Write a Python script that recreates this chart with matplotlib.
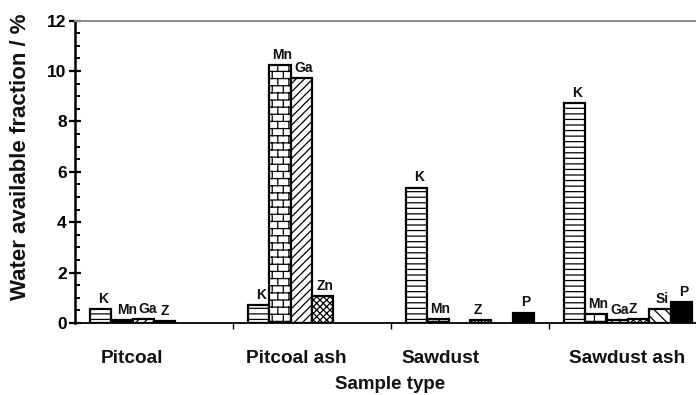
import warnings
warnings.filterwarnings("ignore")
import numpy as np
import matplotlib
matplotlib.use("Agg")
import matplotlib.pyplot as plt
import matplotlib.hatch as mhatch
from matplotlib.path import Path
from matplotlib.transforms import blended_transform_factory

# ---------------- data ----------------
samples = ["Pitcoal", "Pitcoal ash", "Sawdust", "Sawdust ash"]
elements = ["K", "Mn", "Ga", "Zn", "Si", "P"]
K_vals = [0.55, 0.71, 5.37, 8.74]
Mn_vals = [0.12, 10.24, 0.16, 0.36]
Ga_vals = [0.15, 9.71, 0.0, 0.10]
Zn_vals = [0.07, 1.07, 0.12, 0.15]
Si_vals = [0.0, 0.0, 0.0, 0.54]
P_vals = [0.0, 0.0, 0.41, 0.82]
values = [K_vals, Mn_vals, Ga_vals, Zn_vals, Si_vals, P_vals]
# bar labels shown in the chart for the Zn series
Zn_labels = ["Z", "Zn", "Z", "Z"]
y_ticks = [0, 2, 4, 6, 8, 10, 12]

# ---------------- style ----------------
class BrickHatch(mhatch.HatchPatternBase):
    rows, cols = 14, 9

    def __init__(self, hatch, density):
        self.on = "B" in hatch
        self.num_vertices = ((self.rows + 1) * 2 + self.rows * self.cols * 2) if self.on else 0

    def set_vertices_and_codes(self, vertices, codes):
        if not self.on:
            return vertices, codes
        i = 0
        for r in range(self.rows + 1):
            y = r / self.rows
            vertices[i] = (0.0, y); codes[i] = Path.MOVETO
            vertices[i + 1] = (1.0, y); codes[i + 1] = Path.LINETO
            i += 2
        for r in range(self.rows):
            y0, y1 = r / self.rows, (r + 1) / self.rows
            off = 0.5 * (r % 2)
            for c in range(self.cols):
                xx = (c + off) / self.cols
                vertices[i] = (xx, y0); codes[i] = Path.MOVETO
                vertices[i + 1] = (xx, y1); codes[i + 1] = Path.LINETO
                i += 2
        return vertices, codes

mhatch._hatch_types.append(BrickHatch)

plt.rcParams["font.family"] = ["Liberation Sans", "DejaVu Sans"]
plt.rcParams["hatch.linewidth"] = 0.9

styles = {
    "K": dict(facecolor="white", hatch="---"),
    "Mn": dict(facecolor="white", hatch="B"),
    "Ga": dict(facecolor="white", hatch="////"),
    "Zn": dict(facecolor="white", hatch="xxxxx"),
    "Si": dict(facecolor="white", hatch="\\\\\\"),
    "P": dict(facecolor="black", hatch=None),
}
# label nudges in pixels (dx)
label_dx = {(0, "Mn"): 5, (0, "Ga"): 4, (0, "Zn"): 0, (3, "Zn"): -6, (2, "Zn"): -3}

W, H = 696, 395
fig = plt.figure(figsize=(W / 100, H / 100), dpi=100)
ax = fig.add_axes([75 / W, 72 / H, 632 / W, 302.3 / H])

n = len(elements)
bw = 21.3 / 158
x = np.arange(len(samples))
for j, el in enumerate(elements):
    for g in range(len(samples)):
        v = values[j][g]
        if v <= 0:
            continue
        xc = x[g] + (j - (n - 1) / 2) * bw
        ax.bar(xc, v, width=bw, edgecolor="black", linewidth=1.6, zorder=3, **styles[el])
        lab = Zn_labels[g] if el == "Zn" else el
        dx = label_dx.get((g, el), 2)
        ax.annotate(lab, (xc, v), xytext=(dx * 0.72, 4.5), textcoords="offset points",
                    ha="center", va="baseline", fontsize=10, fontweight="bold",
                    color="#111111", zorder=4)

ax.set_xlim(-0.5, len(samples) - 0.5)
ax.set_ylim(0, 12)
ax.set_yticks(y_ticks)
ax.set_yticks(np.arange(0, 12.01, 0.5), minor=True)
ax.set_xticks(np.arange(len(samples) - 1) + 0.5)
ax.set_xticklabels([])
ax.tick_params(axis="y", which="major", direction="inout", length=8, width=1.6,
               labelsize=12.5, pad=2)
ax.tick_params(axis="y", which="minor", direction="in", length=3.5, width=1.4)
ax.tick_params(axis="x", which="major", direction="out", length=4.5, width=1.0)
for t in ax.get_yticklabels():
    t.set_fontweight("bold")

ax.spines["left"].set_linewidth(1.8)
ax.spines["bottom"].set_linewidth(1.3)
ax.spines["top"].set_color("#8a8a8a")
ax.spines["top"].set_linewidth(1.4)
ax.spines["right"].set_visible(False)

# category labels
cat_dx = [-22.5, -16, -29, -1]
tr = blended_transform_factory(ax.transData, fig.transFigure)
for g, name in enumerate(samples):
    ax.text(x[g] + cat_dx[g] / 158, 1 - 362.7 / H, name, transform=tr, ha="center",
            va="baseline", fontsize=13.7, fontweight="bold", color="#111111")

fig.text(390 / W, 1 - 389 / H, "Sample type", ha="center", va="baseline",
         fontsize=13.5, fontweight="bold", color="#111111")
fig.text(21 / W, 1 - 157 / H, "Water available fraction / %", rotation=90,
         ha="center", va="center", fontsize=16, fontweight="bold", color="#111111")

fig.savefig("out.png", dpi=100)
